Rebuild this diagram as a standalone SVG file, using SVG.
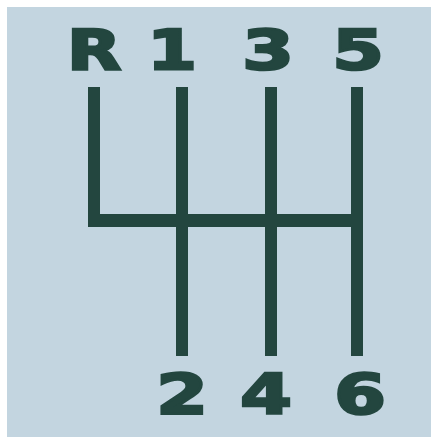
<svg xmlns="http://www.w3.org/2000/svg" width="436" height="440" viewBox="0 0 436 440">
<style>
.lbl{font-family:"DejaVu Sans","Liberation Sans",sans-serif;font-weight:bold;font-size:55px;fill:#23463f;stroke:#23463f;stroke-width:2.5;text-anchor:middle}
.ln{fill:#23463f}
</style>
<rect width="436" height="440" fill="#ffffff"/>
<rect x="7" y="7" width="424" height="430" fill="#c3d5e0"/>
<g id="connectors">
<rect class="ln" x="88" y="87" width="12" height="140"/>
<rect class="ln" x="88" y="214" width="275" height="13"/>
<rect class="ln" x="176" y="87" width="12" height="269"/>
<rect class="ln" x="265" y="87" width="12" height="269"/>
<rect class="ln" x="351" y="87" width="12" height="269"/>
</g>
<g id="gear-R"><text class="lbl" transform="translate(94,69) scale(1.28,1)">R</text></g>
<g id="gear-1"><text class="lbl" transform="translate(172,69) scale(1.3,1)">1</text></g>
<g id="gear-3"><text class="lbl" transform="translate(268,69) scale(1.35,1)">3</text></g>
<g id="gear-5"><text class="lbl" transform="translate(358,69) scale(1.35,1)">5</text></g>
<g id="gear-2"><text class="lbl" transform="translate(182,413) scale(1.35,1)">2</text></g>
<g id="gear-4"><text class="lbl" transform="translate(266,413) scale(1.35,1)">4</text></g>
<g id="gear-6"><text class="lbl" transform="translate(360,413) scale(1.35,1)">6</text></g>
</svg>
